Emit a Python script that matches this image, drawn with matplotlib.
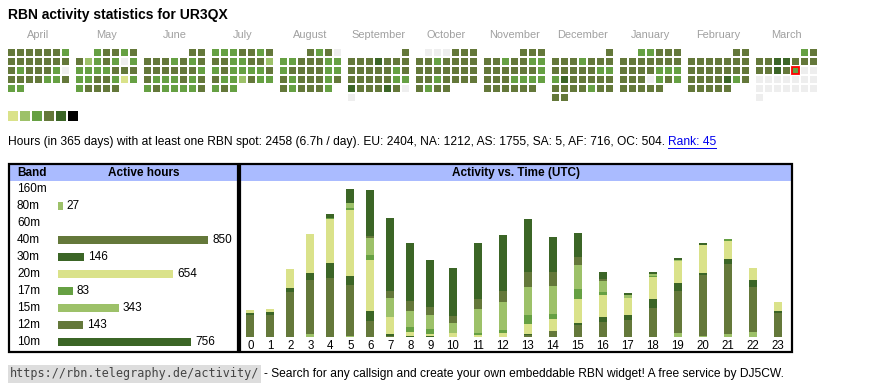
"""
RBN activity widget for one callsign: daily calendar, band totals and
hourly activity (stacked by band).
"""
import calendar
from datetime import date

import matplotlib
matplotlib.use("Agg")
import matplotlib.pyplot as plt
from matplotlib.patches import Rectangle
from matplotlib.transforms import blended_transform_factory

plt.rcParams["font.family"] = ["Liberation Sans", "DejaVu Sans"]

W, H = 870, 390

CALLSIGN = "UR3QX"
TODAY = date(2025, 3, 14)

# --- calendar: one char per day, . = none, y l m o d k = level 1..6
MONTHS = [(2024, 4), (2024, 5), (2024, 6), (2024, 7), (2024, 8), (2024, 9),
          (2024, 10), (2024, 11), (2024, 12), (2025, 1), (2025, 2), (2025, 3)]
DAYS = [
    "oooooom" "ooooooo" "omooom." "oooommo" "mm",
    "moomo" "olmom.m" "mmmmooo" "mmoomym" "moooo",
    "oo" "ooomomo" "oooooom" "ommmomo" "mommmmo",
    "mmmoomo" "oommool" "mommmmo" "ommlomm" "mom",
    "omo." "mmooomm" "moooomm" "omooomo" "omooom",
    "o" "ooodooo" "ooooomo" "ooooomm" "dooodo." ".",
    "...ooo" "oomoooo" "ooooooo" "oomoooo" "omoo",
    "ooo" "oomoomm" "oooooom" "ooommmm" "oooooo",
    "o" "ooomooo" "ooooomm" "mdooooo" "oooomoo" "oo",
    "mmooo" "ooooooo" "oooommm" "ooo.mom" "ooooo",
    "oo" "ooooooo" "ooooooo" "oooodmo" "ooooo",
    "mo" "ooddooo" "oodom.." "......." "......." ".",
]
LEVELS = "ylmodk"
LEVEL_COLORS = {".": "#eeeeee", "y": "#dae28a", "l": "#9dc169", "m": "#66a043",
                "o": "#64783a", "d": "#3b6526", "k": "#000000"}

INFO = ("Hours (in 365 days) with at least one RBN spot: 2458 (6.7h / day). "
        "EU: 2404, NA: 1212, AS: 1755, SA: 5, AF: 716, OC: 504.")
RANK = "Rank: 45"
URL = "https://rbn.telegraphy.de/activity/"
FOOTER = "- Search for any callsign and create your own embeddable RBN widget! A free service by DJ5CW."

# --- band totals
BANDS = ["160m", "80m", "60m", "40m", "30m", "20m", "17m", "15m", "12m", "10m"]
BAND_HOURS = [0, 27, 0, 850, 146, 654, 83, 343, 143, 756]
BAND_COLORS = ["#dae28a", "#9dc169", "#66a043", "#64783a", "#3b6526",
               "#dae28a", "#66a043", "#9dc169", "#64783a", "#3b6526"]

# --- hourly activity per band (hours UTC 0..23)
HOURS = list(range(24))
H160 = [0] * 24
H80 = [0, 0, 0, 4, 0, 2, 0, 0, 0, 0, 0, 0, 0, 0, 0, 0, 0, 0, 0, 6, 2, 5, 7, 0]
H60 = [0] * 24
H40 = [32, 32, 64, 77, 84, 73, 23, 2, 0, 0, 0, 0, 0, 3, 9, 17, 21, 24, 41, 60, 87, 100, 64, 34]
H30 = [3, 4, 6, 10, 22, 12, 14, 2, 1, 1, 0, 0, 0, 1, 0, 3, 8, 8, 14, 11, 3, 6, 10, 3]
H20 = [4, 4, 27, 56, 63, 94, 73, 24, 6, 4, 6, 3, 6, 14, 17, 34, 31, 24, 31, 31, 39, 26, 17, 13]
H17 = [0, 0, 0, 0, 1, 3, 7, 1, 7, 7, 0, 3, 4, 13, 7, 15, 4, 0, 1, 1, 0, 3, 0, 0]
H15 = [0, 0, 0, 0, 0, 7, 24, 27, 23, 20, 14, 34, 40, 41, 40, 34, 16, 4, 3, 1, 1, 0, 0, 0]
H12 = [0, 0, 0, 0, 0, 0, 3, 10, 14, 11, 10, 14, 16, 21, 20, 11, 3, 0, 0, 0, 0, 0, 0, 0]
H10 = [0, 0, 0, 0, 6, 20, 66, 104, 83, 67, 69, 80, 80, 76, 50, 34, 10, 3, 3, 3, 3, 0, 0, 0]
HOURLY = [H160, H80, H60, H40, H30, H20, H17, H15, H12, H10]

HEADER_BG = "#aabbff"


fig = plt.figure(figsize=(W / 100, H / 100), dpi=100)
base = fig.add_axes([0, 0, 1, 1])
base.set_xlim(0, W)
base.set_ylim(H, 0)
base.axis("off")


def px_axes(x0, y0, x1, y1):
    """Axes placed by pixel box (top-left origin)."""
    ax = fig.add_axes([x0 / W, 1 - y1 / H, (x1 - x0) / W, (y1 - y0) / H])
    ax.set_facecolor("none")
    return ax


base.text(8, 15, f"RBN activity statistics for {CALLSIGN}",
          fontsize=10, fontweight="bold", va="center")

# calendar grid: 7 columns (Mon..Sun), one row per week
for m_idx, ((yr, mo), days) in enumerate(zip(MONTHS, DAYS)):
    x0 = 8 + m_idx * 68
    offset = date(yr, mo, 1).weekday()
    base.text(x0 + 30.5, 35, calendar.month_name[mo], fontsize=7.9,
              color="#a0a0a0", ha="center", va="center")
    for d, lvl in enumerate(days):
        row, col = divmod(offset + d, 7)
        today = date(yr, mo, d + 1) == TODAY
        base.add_patch(Rectangle((x0 + col * 9, 49 + row * 9), 7, 7,
                                 facecolor=LEVEL_COLORS[lvl],
                                 edgecolor="red" if today else "none",
                                 lw=1.3 if today else 0))

for i, lvl in enumerate(LEVELS):
    base.add_patch(Rectangle((8 + i * 12, 111), 10, 10, facecolor=LEVEL_COLORS[lvl], lw=0))

renderer = fig.canvas.get_renderer()
info = base.text(8, 142, INFO, fontsize=8.65, va="center")
bb = info.get_window_extent(renderer)
link = base.text(bb.x1 + 3, 142, RANK, fontsize=8.65, va="center", color="#0000ee")
lb = link.get_window_extent(renderer)
base.plot([lb.x0, lb.x1], [148, 148], color="#0000ee", lw=0.7)

# boxes + headers
for x0, x1 in [(9, 238.5), (240, 792)]:
    base.add_patch(Rectangle((x0 + 1, 165), x1 - x0 - 2, 16, facecolor=HEADER_BG, lw=0, zorder=1))
    base.add_patch(Rectangle((x0, 164), x1 - x0, 187.5, fill=False, edgecolor="black",
                             lw=1.6, zorder=3))
base.text(17, 173, "Band", fontsize=8.5, fontweight="bold", va="center")
base.text(144, 173, "Active hours", fontsize=8.5, fontweight="bold", va="center", ha="center")
base.text(516, 173, "Activity vs. Time (UTC)", fontsize=8.5, fontweight="bold",
          va="center", ha="center")

# band totals
px_per_hour = 150 / 850
axb = px_axes(58, 180.5, 238, 350.5)
ypos = range(len(BANDS))
axb.barh(ypos, BAND_HOURS, height=0.42, color=BAND_COLORS)
axb.set_xlim(0, 180 / px_per_hour)
axb.set_ylim(len(BANDS) - 0.5, -0.5)
axb.axis("off")
for i, v in enumerate(BAND_HOURS):
    if v:
        axb.annotate(str(v), (v, i), xytext=(3, 0), textcoords="offset points",
                     va="center", fontsize=8.5)
lab_tr = blended_transform_factory(base.transData, axb.transData)
for i, band in enumerate(BANDS):
    base.text(17, i, band, transform=lab_tr, va="center", fontsize=8.5)

# hourly stacked bars; column width follows label width like the html table
widths = [15 + 5 * len(str(h)) for h in HOURS]
centers = []
acc = 0
for w in widths:
    centers.append(acc + w / 2)
    acc += w

axh = px_axes(240.5, 181, 790.5, 337)
bottom = [0] * 24
for vals, color in zip(HOURLY, BAND_COLORS):
    axh.bar(centers, vals, width=8, bottom=bottom, color=color, lw=0)
    bottom = [b + v for b, v in zip(bottom, vals)]
axh.set_xlim(0, acc)
axh.set_ylim(0, 223)
axh.set_yticks([])
axh.set_xticks(centers, [str(h) for h in HOURS])
axh.tick_params(axis="x", length=0, pad=2.5, labelsize=8.3)
for sp in axh.spines.values():
    sp.set_visible(False)

# footer
url = base.text(10, 374, URL, family="DejaVu Sans Mono", fontsize=8.45, color="#444444",
                va="center", bbox=dict(facecolor="#dddddd", edgecolor="none", pad=1.5))
ub = url.get_window_extent(renderer)
base.text(ub.x1 + 5, 374, FOOTER, fontsize=8.65, va="center")

fig.savefig("out.png", dpi=100)
